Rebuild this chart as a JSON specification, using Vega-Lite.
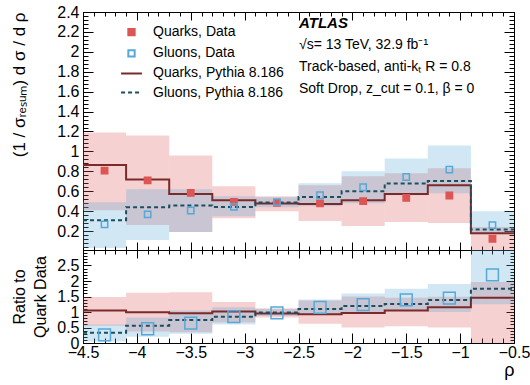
{
  "$schema": "https://vega.github.io/schema/vega-lite/v6.json",
  "padding": {"left": 10, "top": 3, "right": 5, "bottom": 5},
  "background": "white",
  "config": {
    "view": {"stroke": "black", "strokeWidth": 1},
    "axis": {"labelFont": "Liberation Sans", "titleFont": "Liberation Sans", "labelColor": "black", "titleColor": "black", "domainColor": "black", "tickColor": "black", "grid": false, "labelFontSize": 16, "titleFontWeight": "normal", "labelOverlap": false, "labelFlush": false, "labelBound": false, "tickWidth": 1, "domainWidth": 1},
    "legend": {"orient": "none", "legendX": 41.5, "legendY": 13.2, "title": null, "labelFont": "Liberation Sans", "labelFontSize": 14, "labelColor": "black", "labelOffset": 14.5, "rowPadding": 5.1, "symbolStrokeWidth": 2}
  },
  "datasets": {
    "points": [
      {"rho": -4.3, "value": 0.807, "ratio": 1, "series": "Quarks, Data"},
      {"rho": -3.9, "value": 0.71, "ratio": 1, "series": "Quarks, Data"},
      {"rho": -3.5, "value": 0.583, "ratio": 1, "series": "Quarks, Data"},
      {"rho": -3.1, "value": 0.493, "ratio": 1, "series": "Quarks, Data"},
      {"rho": -2.7, "value": 0.483, "ratio": 1, "series": "Quarks, Data"},
      {"rho": -2.3, "value": 0.478, "ratio": 1, "series": "Quarks, Data"},
      {"rho": -1.9, "value": 0.5, "ratio": 1, "series": "Quarks, Data"},
      {"rho": -1.5, "value": 0.533, "ratio": 1, "series": "Quarks, Data"},
      {"rho": -1.1, "value": 0.557, "ratio": 1, "series": "Quarks, Data"},
      {"rho": -0.7, "value": 0.123, "ratio": 1, "series": "Quarks, Data"},
      {"rho": -4.3, "value": 0.267, "ratio": 0.26, "series": "Gluons, Data"},
      {"rho": -3.9, "value": 0.367, "ratio": 0.46, "series": "Gluons, Data"},
      {"rho": -3.5, "value": 0.407, "ratio": 0.64, "series": "Gluons, Data"},
      {"rho": -3.1, "value": 0.443, "ratio": 0.85, "series": "Gluons, Data"},
      {"rho": -2.7, "value": 0.49, "ratio": 0.97, "series": "Gluons, Data"},
      {"rho": -2.3, "value": 0.56, "ratio": 1.15, "series": "Gluons, Data"},
      {"rho": -1.9, "value": 0.64, "ratio": 1.24, "series": "Gluons, Data"},
      {"rho": -1.5, "value": 0.743, "ratio": 1.39, "series": "Gluons, Data"},
      {"rho": -1.1, "value": 0.817, "ratio": 1.45, "series": "Gluons, Data"},
      {"rho": -0.7, "value": 0.26, "ratio": 2.2, "series": "Gluons, Data"}
    ],
    "steps": [
      {"edge": -4.5, "value": 0.863, "ratio": 1.05, "series": "Quarks, Pythia 8.186"},
      {"edge": -4.1, "value": 0.717, "ratio": 0.99, "series": "Quarks, Pythia 8.186"},
      {"edge": -3.7, "value": 0.573, "ratio": 0.96, "series": "Quarks, Pythia 8.186"},
      {"edge": -3.3, "value": 0.51, "ratio": 1.02, "series": "Quarks, Pythia 8.186"},
      {"edge": -2.9, "value": 0.477, "ratio": 0.95, "series": "Quarks, Pythia 8.186"},
      {"edge": -2.5, "value": 0.473, "ratio": 0.93, "series": "Quarks, Pythia 8.186"},
      {"edge": -2.1, "value": 0.51, "ratio": 0.97, "series": "Quarks, Pythia 8.186"},
      {"edge": -1.7, "value": 0.573, "ratio": 1.05, "series": "Quarks, Pythia 8.186"},
      {"edge": -1.3, "value": 0.66, "ratio": 1.15, "series": "Quarks, Pythia 8.186"},
      {"edge": -0.9, "value": 0.177, "ratio": 1.46, "series": "Quarks, Pythia 8.186"},
      {"edge": -0.5, "value": 0.177, "ratio": 1.46, "series": "Quarks, Pythia 8.186"},
      {"edge": -4.5, "value": 0.31, "ratio": 0.33, "series": "Gluons, Pythia 8.186"},
      {"edge": -4.1, "value": 0.44, "ratio": 0.56, "series": "Gluons, Pythia 8.186"},
      {"edge": -3.7, "value": 0.457, "ratio": 0.74, "series": "Gluons, Pythia 8.186"},
      {"edge": -3.3, "value": 0.443, "ratio": 0.85, "series": "Gluons, Pythia 8.186"},
      {"edge": -2.9, "value": 0.487, "ratio": 0.98, "series": "Gluons, Pythia 8.186"},
      {"edge": -2.5, "value": 0.543, "ratio": 1.1, "series": "Gluons, Pythia 8.186"},
      {"edge": -2.1, "value": 0.6, "ratio": 1.19, "series": "Gluons, Pythia 8.186"},
      {"edge": -1.7, "value": 0.677, "ratio": 1.26, "series": "Gluons, Pythia 8.186"},
      {"edge": -1.3, "value": 0.703, "ratio": 1.39, "series": "Gluons, Pythia 8.186"},
      {"edge": -0.9, "value": 0.217, "ratio": 1.75, "series": "Gluons, Pythia 8.186"},
      {"edge": -0.5, "value": 0.217, "ratio": 1.75, "series": "Gluons, Pythia 8.186"}
    ],
    "bands": [
      {"lo": -4.5, "hi": -4.1, "low": 0.41, "high": 1.19, "rlow": 0.56, "rhigh": 1.48, "series": "Quarks, Data"},
      {"lo": -4.1, "hi": -3.7, "low": 0.26, "high": 1.16, "rlow": 0.37, "rhigh": 1.62, "series": "Quarks, Data"},
      {"lo": -3.7, "hi": -3.3, "low": 0.19, "high": 0.96, "rlow": 0.35, "rhigh": 1.64, "series": "Quarks, Data"},
      {"lo": -3.3, "hi": -2.9, "low": 0.33, "high": 0.65, "rlow": 0.66, "rhigh": 1.32, "series": "Quarks, Data"},
      {"lo": -2.9, "hi": -2.5, "low": 0.4, "high": 0.55, "rlow": 0.82, "rhigh": 1.12, "series": "Quarks, Data"},
      {"lo": -2.5, "hi": -2.1, "low": 0.3, "high": 0.66, "rlow": 0.62, "rhigh": 1.37, "series": "Quarks, Data"},
      {"lo": -2.1, "hi": -1.7, "low": 0.25, "high": 0.75, "rlow": 0.5, "rhigh": 1.5, "series": "Quarks, Data"},
      {"lo": -1.7, "hi": -1.3, "low": 0.29, "high": 0.78, "rlow": 0.54, "rhigh": 1.46, "series": "Quarks, Data"},
      {"lo": -1.3, "hi": -0.9, "low": 0.28, "high": 0.83, "rlow": 0.5, "rhigh": 1.49, "series": "Quarks, Data"},
      {"lo": -0.9, "hi": -0.5, "low": 0.0, "high": 0.24, "rlow": 0.0, "rhigh": 1.97, "series": "Quarks, Data"},
      {"lo": -4.5, "hi": -4.1, "low": 0.03, "high": 0.49, "rlow": 0.05, "rhigh": 0.6, "series": "Gluons, Data"},
      {"lo": -4.1, "hi": -3.7, "low": 0.11, "high": 0.62, "rlow": 0.2, "rhigh": 0.82, "series": "Gluons, Data"},
      {"lo": -3.7, "hi": -3.3, "low": 0.19, "high": 0.62, "rlow": 0.3, "rhigh": 1.05, "series": "Gluons, Data"},
      {"lo": -3.3, "hi": -2.9, "low": 0.35, "high": 0.55, "rlow": 0.6, "rhigh": 1.15, "series": "Gluons, Data"},
      {"lo": -2.9, "hi": -2.5, "low": 0.44, "high": 0.54, "rlow": 0.87, "rhigh": 1.1, "series": "Gluons, Data"},
      {"lo": -2.5, "hi": -2.1, "low": 0.45, "high": 0.68, "rlow": 0.92, "rhigh": 1.4, "series": "Gluons, Data"},
      {"lo": -2.1, "hi": -1.7, "low": 0.48, "high": 0.8, "rlow": 0.95, "rhigh": 1.6, "series": "Gluons, Data"},
      {"lo": -1.7, "hi": -1.3, "low": 0.56, "high": 0.93, "rlow": 1.05, "rhigh": 1.75, "series": "Gluons, Data"},
      {"lo": -1.3, "hi": -0.9, "low": 0.58, "high": 1.06, "rlow": 1.0, "rhigh": 1.9, "series": "Gluons, Data"},
      {"lo": -0.9, "hi": -0.5, "low": 0.17, "high": 0.4, "rlow": 1.25, "rhigh": 3.3, "series": "Gluons, Data"}
    ]
  },
  "vconcat": [
    {
      "width": 431,
      "height": 238,
      "title": {
        "text": "ATLAS",
        "subtitle": ["√s= 13 TeV, 32.9 fb⁻¹", "Track-based, anti-kₜ R = 0.8", "Soft Drop, z_cut = 0.1, β = 0"],
        "anchor": "start", "frame": "group", "orient": "top", "offset": -92, "dx": 216,
        "font": "Liberation Sans", "fontSize": 15, "fontStyle": "italic", "fontWeight": "bold", "color": "black",
        "subtitleFont": "Liberation Sans", "subtitleFontSize": 14, "subtitleColor": "black", "subtitlePadding": 7, "subtitleLineHeight": 22
      },
      "layer": [
        {
          "data": {"name": "bands"},
          "mark": {"type": "rect", "opacity": 0.27, "clip": true},
          "encoding": {
            "x": {"field": "lo", "type": "quantitative", "scale": {"domain": [-4.5, -0.5], "nice": false, "zero": false},
              "axis": {"orient": "bottom", "title": null, "labels": false, "values": [-4.5,-4.4,-4.3,-4.2,-4.1,-4,-3.9,-3.8,-3.7,-3.6,-3.5,-3.4,-3.3,-3.2,-3.1,-3,-2.9,-2.8,-2.7,-2.6,-2.5,-2.4,-2.3,-2.2,-2.1,-2,-1.9,-1.8,-1.7,-1.6,-1.5,-1.4,-1.3,-1.2,-1.1,-1,-0.9,-0.8,-0.7,-0.6,-0.5],
                "tickSize": {"condition": {"test": "abs(datum.value*2-round(datum.value*2))<0.001", "value": -8}, "value": -4}}},
            "x2": {"field": "hi"},
            "y": {"field": "low", "type": "quantitative", "scale": {"domain": [0.01, 2.4], "nice": false, "zero": false},
              "axis": {"orient": "left", "title": "(1 / σᵣₑₛᵤₘ) d σ / d ρ", "titleFontSize": 17, "titleAnchor": "end", "titlePadding": 28, "format": "~g", "labelPadding": 14,
                "values": [0.04,0.08,0.12,0.16,0.2,0.24,0.28,0.32,0.36,0.4,0.44,0.48,0.52,0.56,0.6,0.64,0.68,0.72,0.76,0.8,0.84,0.88,0.92,0.96,1,1.04,1.08,1.12,1.16,1.2,1.24,1.28,1.32,1.36,1.4,1.44,1.48,1.52,1.56,1.6,1.64,1.68,1.72,1.76,1.8,1.84,1.88,1.92,1.96,2,2.04,2.08,2.12,2.16,2.2,2.24,2.28,2.32,2.36,2.4],
                "labelExpr": "abs(datum.value*5-round(datum.value*5))<0.001 ? datum.label : ''",
                "tickSize": {"condition": {"test": "abs(datum.value*5-round(datum.value*5))<0.001", "value": -10}, "value": -5}}},
            "y2": {"field": "high"},
            "color": {"field": "series", "type": "nominal",
              "scale": {"domain": ["Quarks, Data", "Gluons, Data"], "range": ["#dd5555", "#55a8d8"]},
              "legend": null}
          }
        },
        {
          "data": {"name": "steps"},
          "mark": {"type": "line", "interpolate": "step-after", "strokeWidth": 2, "clip": true},
          "encoding": {
            "x": {"field": "edge", "type": "quantitative",
              "axis": {"orient": "top", "title": null, "labels": false, "values": [-4.5,-4.4,-4.3,-4.2,-4.1,-4,-3.9,-3.8,-3.7,-3.6,-3.5,-3.4,-3.3,-3.2,-3.1,-3,-2.9,-2.8,-2.7,-2.6,-2.5,-2.4,-2.3,-2.2,-2.1,-2,-1.9,-1.8,-1.7,-1.6,-1.5,-1.4,-1.3,-1.2,-1.1,-1,-0.9,-0.8,-0.7,-0.6,-0.5],
                "tickSize": {"condition": {"test": "abs(datum.value*2-round(datum.value*2))<0.001", "value": -8}, "value": -4}}},
            "y": {"field": "value", "type": "quantitative",
              "axis": {"orient": "right", "title": null, "labels": false,
                "values": [0.04,0.08,0.12,0.16,0.2,0.24,0.28,0.32,0.36,0.4,0.44,0.48,0.52,0.56,0.6,0.64,0.68,0.72,0.76,0.8,0.84,0.88,0.92,0.96,1,1.04,1.08,1.12,1.16,1.2,1.24,1.28,1.32,1.36,1.4,1.44,1.48,1.52,1.56,1.6,1.64,1.68,1.72,1.76,1.8,1.84,1.88,1.92,1.96,2,2.04,2.08,2.12,2.16,2.2,2.24,2.28,2.32,2.36,2.4],
                "tickSize": {"condition": {"test": "abs(datum.value*5-round(datum.value*5))<0.001", "value": -10}, "value": -5}}},
            "stroke": {"field": "series", "type": "nominal",
              "scale": {"domain": ["Quarks, Data", "Gluons, Data", "Quarks, Pythia 8.186", "Gluons, Pythia 8.186"], "range": ["#dd5555", "#55a8d8", "#7a2a28", "#1c4e5e"]}},
            "strokeDash": {"field": "series", "type": "nominal",
              "scale": {"domain": ["Quarks, Data", "Gluons, Data", "Quarks, Pythia 8.186", "Gluons, Pythia 8.186"], "range": [[1, 0], [1, 0], [1, 0], [4, 3]]}}
          }
        },
        {
          "data": {"name": "points"},
          "mark": {"type": "point", "strokeWidth": 1.5, "opacity": 1},
          "encoding": {
            "x": {"field": "rho", "type": "quantitative", "axis": null},
            "y": {"field": "value", "type": "quantitative", "axis": null},
            "stroke": {"field": "series", "type": "nominal"},
            "fill": {"field": "series", "type": "nominal",
              "scale": {"domain": ["Quarks, Data", "Gluons, Data", "Quarks, Pythia 8.186", "Gluons, Pythia 8.186"], "range": ["#dd5555", "transparent", "transparent", "transparent"]}},
            "shape": {"field": "series", "type": "nominal",
              "scale": {"domain": ["Quarks, Data", "Gluons, Data", "Quarks, Pythia 8.186", "Gluons, Pythia 8.186"], "range": ["square", "square", "M-3.3,0H3.3", "M-3.3,0H3.3"]}},
            "size": {"field": "series", "type": "nominal",
              "scale": {"domain": ["Quarks, Data", "Gluons, Data", "Quarks, Pythia 8.186", "Gluons, Pythia 8.186"], "range": [40, 40, 100, 100]}}
          }
        }
      ],
      "resolve": {"axis": {"x": "independent", "y": "independent"}}
    },
    {
      "width": 431,
      "height": 93,
      "layer": [
        {
          "data": {"name": "bands"},
          "mark": {"type": "rect", "opacity": 0.27, "clip": true},
          "encoding": {
            "x": {"field": "lo", "type": "quantitative", "scale": {"domain": [-4.5, -0.5], "nice": false, "zero": false},
              "axis": {"orient": "bottom", "title": "ρ", "titleFontSize": 18, "titleAnchor": "end", "titlePadding": -4, "format": "~g", "labelPadding": 11,
                "values": [-4.5,-4.4,-4.3,-4.2,-4.1,-4,-3.9,-3.8,-3.7,-3.6,-3.5,-3.4,-3.3,-3.2,-3.1,-3,-2.9,-2.8,-2.7,-2.6,-2.5,-2.4,-2.3,-2.2,-2.1,-2,-1.9,-1.8,-1.7,-1.6,-1.5,-1.4,-1.3,-1.2,-1.1,-1,-0.9,-0.8,-0.7,-0.6,-0.5],
                "labelExpr": "abs(datum.value*2-round(datum.value*2))<0.001 ? datum.label : ''",
                "tickSize": {"condition": {"test": "abs(datum.value*2-round(datum.value*2))<0.001", "value": -10}, "value": -5}}},
            "x2": {"field": "hi"},
            "y": {"field": "rlow", "type": "quantitative", "scale": {"domain": [0, 3], "nice": false, "zero": false},
              "axis": {"orient": "left", "title": ["Ratio to", "Quark Data"], "titleFontSize": 16, "titleLineHeight": 21, "titlePadding": 8, "format": "~g", "labelPadding": 12,
                "values": [0,0.1,0.2,0.3,0.4,0.5,0.6,0.7,0.8,0.9,1,1.1,1.2,1.3,1.4,1.5,1.6,1.7,1.8,1.9,2,2.1,2.2,2.3,2.4,2.5,2.6,2.7,2.8,2.9,3],
                "labelExpr": "datum.value < 2.9 && abs(datum.value*2-round(datum.value*2))<0.001 ? datum.label : ''",
                "tickSize": {"condition": {"test": "abs(datum.value*2-round(datum.value*2))<0.001", "value": -8}, "value": -4}}},
            "y2": {"field": "rhigh"},
            "color": {"field": "series", "type": "nominal",
              "scale": {"domain": ["Quarks, Data", "Gluons, Data", "Quarks, Pythia 8.186", "Gluons, Pythia 8.186"], "range": ["#dd5555", "#55a8d8", "#7a2a28", "#1c4e5e"]},
              "legend": null}
          }
        },
        {
          "data": {"name": "steps"},
          "mark": {"type": "line", "interpolate": "step-after", "strokeWidth": 2, "clip": true},
          "encoding": {
            "x": {"field": "edge", "type": "quantitative",
              "axis": {"orient": "top", "title": null, "labels": false, "values": [-4.5,-4.4,-4.3,-4.2,-4.1,-4,-3.9,-3.8,-3.7,-3.6,-3.5,-3.4,-3.3,-3.2,-3.1,-3,-2.9,-2.8,-2.7,-2.6,-2.5,-2.4,-2.3,-2.2,-2.1,-2,-1.9,-1.8,-1.7,-1.6,-1.5,-1.4,-1.3,-1.2,-1.1,-1,-0.9,-0.8,-0.7,-0.6,-0.5],
                "tickSize": {"condition": {"test": "abs(datum.value*2-round(datum.value*2))<0.001", "value": -8}, "value": -4}}},
            "y": {"field": "ratio", "type": "quantitative",
              "axis": {"orient": "right", "title": null, "labels": false,
                "values": [0,0.1,0.2,0.3,0.4,0.5,0.6,0.7,0.8,0.9,1,1.1,1.2,1.3,1.4,1.5,1.6,1.7,1.8,1.9,2,2.1,2.2,2.3,2.4,2.5,2.6,2.7,2.8,2.9,3],
                "tickSize": {"condition": {"test": "abs(datum.value*2-round(datum.value*2))<0.001", "value": -8}, "value": -4}}},
            "color": {"field": "series", "type": "nominal", "legend": null},
            "strokeDash": {"field": "series", "type": "nominal", "scale": {"domain": ["Quarks, Data", "Gluons, Data", "Quarks, Pythia 8.186", "Gluons, Pythia 8.186"], "range": [[1, 0], [1, 0], [1, 0], [4, 3]]}, "legend": null}
          }
        },
        {
          "data": {"name": "points"},
          "transform": [{"filter": "datum.series === 'Gluons, Data'"}],
          "mark": {"type": "point", "shape": "square", "filled": false, "size": 140, "strokeWidth": 1.5, "opacity": 1, "clip": true},
          "encoding": {
            "x": {"field": "rho", "type": "quantitative", "axis": null},
            "y": {"field": "ratio", "type": "quantitative", "axis": null},
            "color": {"field": "series", "type": "nominal", "legend": null}
          }
        }
      ],
      "resolve": {"axis": {"x": "independent", "y": "independent"}}
    }
  ],
  "spacing": 0,
  "bounds": "flush",
  "resolve": {
    "scale": {"color": "independent", "strokeDash": "independent", "stroke": "independent", "fill": "independent", "shape": "independent", "size": "independent"},
    "legend": {"color": "independent", "strokeDash": "independent", "stroke": "independent", "fill": "independent", "shape": "independent", "size": "independent"}
  }
}
